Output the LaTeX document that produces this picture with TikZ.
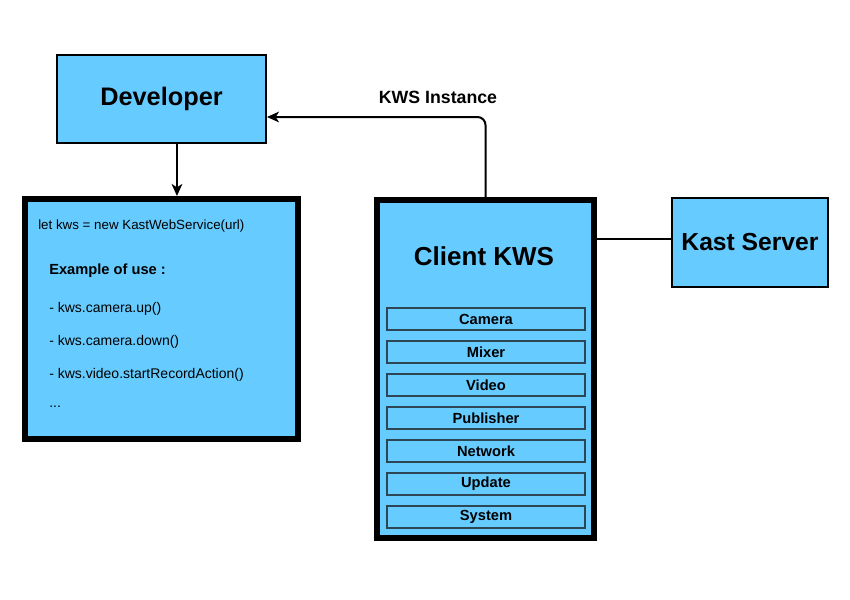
\documentclass[tikz,border=0pt]{standalone}
\usepackage{fontspec}
\setmainfont{Liberation Sans}
\usetikzlibrary{arrows.meta}

\definecolor{kwsblue}{RGB}{102,204,255}
\definecolor{kwsedge}{RGB}{45,70,85}

\tikzset{
  thinbox/.style={draw, line width=1.5pt, fill=kwsblue, inner sep=0pt},
  thickbox/.style={draw, line width=4.5pt, fill=kwsblue, inner sep=0pt},
  modbox/.style={draw=kwsedge, line width=0.9pt, fill=kwsblue, inner sep=0pt,
    minimum width=148.5pt, minimum height=16.5pt, font=\fontsize{11}{13}\selectfont\bfseries},
  codetext/.style={anchor=west, inner sep=0.75pt, font=\fontsize{10.5}{12}\selectfont},
  link/.style={line width=1.5pt},
  tip/.style={-{Stealth[length=9pt,width=8pt,inset=2.5pt]}},
}

\begin{document}
\begin{tikzpicture}[x=0.75pt,y=0.75pt,yscale=-1,xscale=1]
\useasboundingbox (0,0) rectangle (850,600);

% Boxes
    \node [thinbox, minimum width=156.75pt, minimum height=66pt, font=\fontsize{19}{22}\selectfont\bfseries] (dev) at (161.5,99) {Developer};
    \node [thickbox, minimum width=204.75pt, minimum height=180pt] (code) at (161.5,319) {};
    \node [thickbox, minimum width=162.75pt, minimum height=253.5pt] (client) at (485.5,369) {};
    \node [thinbox, minimum width=117pt, minimum height=66.75pt, font=\fontsize{18.5}{22}\selectfont\bfseries] (kast) at (750,242.5) {Kast Server};

% Client modules
    \node [font=\fontsize{19.5}{22}\selectfont\bfseries] (clientlbl) at (484,256) {Client KWS};
    \foreach \name [count=\i from 0] in {Camera,Mixer,Video,Publisher,Network,Update,System}
      \node [modbox] (mod\i) at (486,319+33*\i) {\name};

% Code text
    \node [codetext, font=\fontsize{10}{12}\selectfont] (letkws) at (37,226) {let kws = new KastWebService(url)};
    \node [codetext, font=\fontsize{11}{13}\selectfont\bfseries] (example) at (48,271) {Example of use :};
    \node [codetext] (camup) at (48,309) {- kws.camera.up()};
    \node [codetext] (camdown) at (48,342) {- kws.camera.down()};
    \node [codetext] (record) at (48,375) {- kws.video.startRecordAction()};
    \node [codetext] (dots) at (48,407) {...};

% Connectors
    \draw [link, tip] ([xshift=11.6pt]dev.south) -- ([xshift=11.6pt]code.north);
    \draw [link, rounded corners=6pt, tip] (client.north) |- ([yshift=13.5pt]dev.east);
    \draw [link] ([yshift=-2.6pt]kast.west) -- ([yshift=-2.6pt]kast.west -| client.east);

% Text Node
    \node [font=\fontsize{13.3}{15}\selectfont\bfseries] (inst) at (438,97) {KWS Instance};

\end{tikzpicture}
\end{document}
